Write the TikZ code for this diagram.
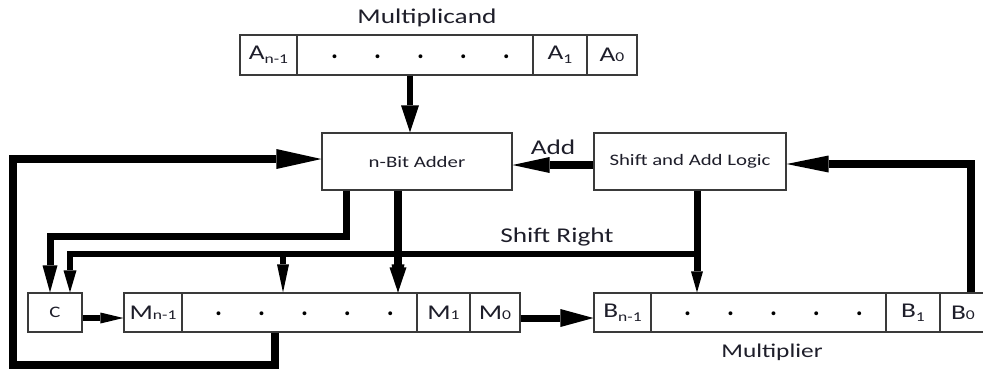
\documentclass[tikz,border=0pt]{standalone}
\usepackage{fontspec}
\setmainfont{Carlito}
\usepackage{graphicx}
\usetikzlibrary{arrows.meta,calc}
\definecolor{boxline}{HTML}{3A3A3A}
\definecolor{txt}{HTML}{1E1E2A}
\newcommand\wt[1]{\scalebox{1.3}[1]{#1}}
\newcommand\lsub[1]{\raisebox{-0.35ex}{\fontsize{13.5}{13.5}\selectfont #1}}
\newcommand\msub[1]{{\fontsize{13.5}{13.5}\selectfont #1}}
\newcommand\dotline{.\hspace{36pt}.\hspace{36pt}.\hspace{36pt}.\hspace{36pt}.}
\begin{document}
\begin{tikzpicture}[x=1pt,y=-1pt,
  cell/.style={draw=boxline,line width=1.2pt,minimum height=40pt,inner sep=0pt,text=txt,font=\fontsize{21}{21}\selectfont},
  blk/.style={draw=boxline,line width=1.2pt,minimum height=57pt,inner sep=0pt,text=txt,font=\fontsize{16}{16}\selectfont},
  lbl/.style={inner sep=0pt,text=txt},
  dotrow/.style={inner sep=0pt,text=black,font=\fontsize{26}{26}\selectfont\bfseries},
  wire/.style={line width=#1,draw=black},
  hd/.style 2 args={-{Triangle[length=#1,width=#2,line width=0pt]}}]
\useasboundingbox (0,0) rectangle (983,368);
\fill[white] (0,0) rectangle (983,368);
% helper coordinates
\coordinate (k0) at (410,100);
\coordinate (kadd) at (553,165);
\coordinate (k3) at (971,164);
\coordinate (k4) at (275,365);
\coordinate (k5) at (13,365);
\coordinate (k6) at (13,159);
\coordinate (k7) at (100,318);
\coordinate (bus) at (697,254);
\coordinate (kb1) at (283,254);
\coordinate (kb2) at (398,254);
% multiplicand register
\node[lbl,font=\fontsize{21}{21}\selectfont] (mcl) at (427,18) {\wt{Multiplicand}};
\node[cell,minimum width=57pt] (mcn1) at (268.5,55) {\wt{A\lsub{n-1}}};
\node[cell,minimum width=236pt] (mcd) at (415,55) {};
\node[cell,minimum width=54pt] (mc1) at (560,55) {\wt{A\lsub{1}}};
\node[cell,minimum width=50pt] (mc0) at (612,55) {\wt{A\msub{0}}};
\node[dotrow] (mcdots) at (420.5,57) {\dotline};
% adder and control
\node[blk,minimum width=190pt] (adder) at (417,161.5) {\wt{n-Bit Adder}};
\node[blk,minimum width=192pt] (sal) at (690,161.5) {\wt{Shift and Add Logic}};
\node[lbl,font=\fontsize{21}{21}\selectfont] (addl) at (553,147) {\wt{Add}};
\node[lbl,font=\fontsize{21}{21}\selectfont] (srl) at (557,237) {\wt{Shift Right}};
% C and M register
\node[cell,minimum width=54pt,minimum height=39pt,font=\fontsize{16}{16}\selectfont] (creg) at (55,312.5) {\wt{C}};
\node[cell,minimum width=58pt,minimum height=39pt] (mn1) at (153,312.5) {\wt{M\msub{n-1}}};
\node[cell,minimum width=235pt,minimum height=39pt] (md) at (299.5,312.5) {};
\node[cell,minimum width=53pt,minimum height=39pt] (m1) at (443.5,312.5) {\wt{M\msub{1}}};
\node[cell,minimum width=50pt,minimum height=39pt] (m0) at (495,312.5) {\wt{M\msub{0}}};
\node[dotrow] (mdots) at (304.5,314) {\dotline};
% B register
\node[cell,minimum width=57pt,minimum height=39pt] (bn1) at (622.5,312.5) {\wt{B\lsub{n-1}}};
\node[cell,minimum width=235pt,minimum height=39pt] (bd) at (768.5,312.5) {};
\node[cell,minimum width=54pt,minimum height=39pt] (b1) at (913,312.5) {\wt{B\lsub{1}}};
\node[cell,minimum width=46pt,minimum height=39pt] (b0) at (963,312.5) {\wt{B\msub{0}}};
\node[dotrow] (bdots) at (773.5,314) {\dotline};
\node[lbl,font=\fontsize{19.5}{19.5}\selectfont] (mrl) at (772,352) {\wt{Multiplier}};
% connectors
\draw[wire=6pt,hd={27pt}{18pt}] (mcd.south -| k0) -- (adder.north -| k0);
\draw[wire=8pt,hd={37pt}{16pt}] (sal.west |- kadd) -- (adder.east |- kadd);
\draw[wire=8pt,hd={42pt}{17pt}] (b0.north -| k3) |- (sal.east |- k3);
\draw[wire=8pt,hd={45pt}{20pt}] (md.south -| k4) |- (k5) |- (adder.west |- k6);
\draw[wire=7pt,hd={27pt}{15pt}] ([xshift=25pt]adder.south west) -- ++(0,46) -| ([xshift=-5pt]creg.north);
\draw[wire=5.5pt,hd={22pt}{13pt}] (bus) -| ([xshift=15pt]creg.north);
\draw[wire=5.5pt,hd={28pt}{12pt}] (kb1) -- (md.north -| kb1);
\draw[wire=5.5pt,hd={28pt}{13pt}] (kb2) -- (md.north -| kb2);
\draw[wire=8pt,hd={25pt}{17pt}] (adder.south -| kb2) -- (md.north -| kb2);
\draw[wire=7pt,hd={21pt}{12pt}] (sal.south -| bus) -- (bd.north -| bus);
\draw[wire=6pt,hd={23pt}{11pt}] (creg.east |- k7) -- (mn1.west |- k7);
\draw[wire=7pt,hd={33pt}{18pt}] (m0.east |- k7) -- (bn1.west |- k7);
\end{tikzpicture}
\end{document}
